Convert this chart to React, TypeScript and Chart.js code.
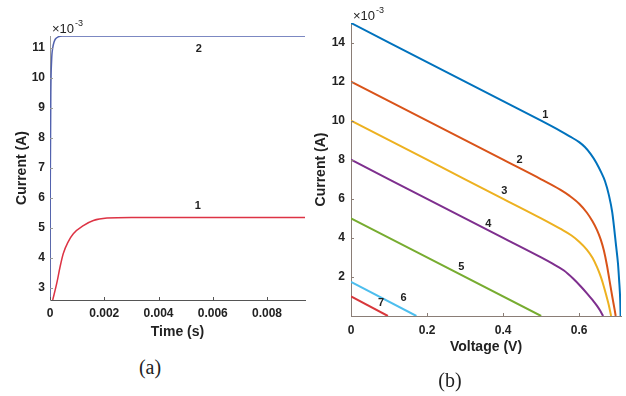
import React, { useEffect, useRef } from 'react';
import { Chart, registerables } from 'chart.js';
Chart.register(...registerables);

// ---------- Panel (a): current vs time ----------
const timeTicks = [0, 0.002, 0.004, 0.006, 0.008];
const currentTicksA = [3, 4, 5, 6, 7, 8, 9, 10, 11];
const timeRed = [0.0001, 0.00025, 0.00037, 0.00049, 0.00067, 0.00086, 0.00123, 0.0016, 0.0021, 0.003, 0.0094];
const currentRed = [2.6, 3.16, 3.7, 4.15, 4.54, 4.81, 5.08, 5.25, 5.33, 5.35, 5.35];
const timeBlue = [0, 0.00001, 0.00003, 0.00006, 0.0001, 0.00015, 0.0002, 0.0003, 0.00045, 0.0094];
const currentBlue = [2.6, 6.5, 9.5, 10.6, 11.0, 11.2, 11.3, 11.37, 11.4, 11.4];
const labelsAText = ['1', '2'];
const labelsATime = [0.00545, 0.00549];
const labelsACurrent = [5.72, 10.97];

// ---------- Panel (b): I-V curves ----------
const voltTicks = [0, 0.2, 0.4, 0.6];
const currentTicksB = [2, 4, 6, 8, 10, 12, 14];
const v1 = [0, 0.1, 0.2, 0.3, 0.4, 0.5, 0.55, 0.575, 0.6, 0.615, 0.63, 0.645, 0.658, 0.668, 0.678, 0.687, 0.697, 0.702, 0.705, 0.708, 0.709];
const i1 = [15, 14, 13, 12, 11, 10, 9.48, 9.2, 8.9, 8.65, 8.3, 7.85, 7.35, 6.9, 6.2, 5.3, 3.6, 2.7, 1.85, 0.8, 0];
const v2 = [0, 0.1, 0.2, 0.3, 0.4, 0.5, 0.55, 0.575, 0.6, 0.62, 0.635, 0.647, 0.657, 0.665, 0.673, 0.68, 0.687, 0.693, 0.696];
const i2 = [12, 11, 10, 9, 8, 7, 6.47, 6.15, 5.75, 5.3, 4.85, 4.4, 3.9, 3.35, 2.6, 1.8, 1.0, 0.35, 0];
const v3 = [0, 0.1, 0.2, 0.3, 0.4, 0.5, 0.55, 0.58, 0.6, 0.62, 0.635, 0.647, 0.657, 0.665, 0.672, 0.678, 0.684];
const i3 = [10, 9, 8, 7, 6, 5, 4.47, 4.12, 3.8, 3.4, 2.98, 2.5, 2.0, 1.5, 1.0, 0.55, 0];
const v4 = [0, 0.1, 0.2, 0.3, 0.4, 0.5, 0.53, 0.56, 0.584, 0.605, 0.621, 0.635, 0.647, 0.655, 0.663];
const i4 = [8, 7, 6, 5, 4, 3, 2.68, 2.33, 1.92, 1.5, 1.15, 0.82, 0.52, 0.28, 0];
const v5 = [0, 0.5];
const i5 = [5, 0];
const v6 = [0, 0.172];
const i6 = [1.75, 0];
const v7 = [0, 0.097];
const i7 = [1.0, 0];
const labelsBText = ['1', '2', '3', '4', '5', '6', '7'];
const labelsBVolt = [0.511, 0.443, 0.403, 0.361, 0.29, 0.138, 0.079];
const labelsBCurrent = [10.29, 7.99, 6.42, 4.7, 2.49, 0.91, 0.65];
const colorsB = ['#0072BD', '#D95319', '#EDB120', '#7E2F8E', '#77AC30', '#4DBEEE', '#D8363A'];

const FONT = '"Liberation Sans", Arial, sans-serif';
const TEXT = '#222222';

function pts(xs: number[], ys: number[]) {
  return xs.map((x, i) => ({ x, y: ys[i] }));
}

function decor(xTicks: number[], yTicks: number[], xTickColor: string, yTickColor: string,
  lt: string[], lx: number[], ly: number[]) {
  return {
    id: 'decor',
    afterDraw(chart: any) {
      const { ctx, chartArea: a } = chart;
      const x = chart.scales.x;
      const y = chart.scales.y;
      ctx.save();
      ctx.lineWidth = 1;
      ctx.strokeStyle = xTickColor;
      ctx.beginPath();
      xTicks.forEach((v) => {
        const px = Math.round(x.getPixelForValue(v)) + 0.5;
        ctx.moveTo(px, a.bottom);
        ctx.lineTo(px, a.bottom - 3);
      });
      ctx.stroke();
      ctx.strokeStyle = yTickColor;
      ctx.beginPath();
      yTicks.forEach((v) => {
        const py = Math.round(y.getPixelForValue(v)) + 0.5;
        ctx.moveTo(a.left, py);
        ctx.lineTo(a.left + 3, py);
      });
      ctx.stroke();
      ctx.fillStyle = TEXT;
      ctx.font = `bold 11px ${FONT}`;
      ctx.textAlign = 'center';
      ctx.textBaseline = 'middle';
      lt.forEach((t, i) => ctx.fillText(t, x.getPixelForValue(lx[i]), y.getPixelForValue(ly[i])));
      ctx.textAlign = 'left';
      ctx.textBaseline = 'alphabetic';
      ctx.font = `13px ${FONT}`;
      ctx.fillText('×10', a.left + 2, a.top - 3);
      const w = ctx.measureText('×10').width;
      ctx.font = `9px ${FONT}`;
      ctx.fillText('-3', a.left + 3 + w, a.top - 10);
      ctx.restore();
    },
  };
}

function axis(opts: any) {
  const { min, max, tickVals, size, horizontal, borderColor, title, titlePad, tickPad } = opts;
  return {
    type: 'linear',
    min,
    max,
    afterBuildTicks: (s: any) => {
      s.ticks = tickVals.map((v: number) => ({ value: v }));
    },
    afterFit: (s: any) => {
      if (horizontal) s.height = size;
      else s.width = size;
    },
    grid: { display: true, drawOnChartArea: false, drawTicks: false },
    border: { display: true, color: borderColor, width: 1 },
    ticks: {
      padding: tickPad,
      color: TEXT,
      font: { family: FONT, size: 12, weight: 'bold' },
      callback: (v: any) => String(v),
    },
    title: {
      display: true,
      text: title,
      color: TEXT,
      font: { family: FONT, size: 14, weight: 'bold' },
      padding: horizontal ? { top: 0, bottom: titlePad } : { top: titlePad, bottom: 0 },
    },
  };
}

function ChartCanvas({ config, left, width, height }: any) {
  const ref = useRef<HTMLCanvasElement | null>(null);
  useEffect(() => {
    if (!ref.current) return;
    const c = new Chart(ref.current, config);
    return () => c.destroy();
  }, []);
  return (
    <canvas
      ref={ref}
      width={width}
      height={height}
      style={{ position: 'absolute', left, top: 0, width, height }}
    />
  );
}

const configA: any = {
  type: 'line',
  data: {
    datasets: [
      { data: pts(timeRed, currentRed), borderColor: '#DD3344', borderWidth: 1.5, pointRadius: 0, cubicInterpolationMode: 'monotone', fill: false },
      { data: pts(timeBlue, currentBlue), borderColor: '#5262AE', borderWidth: 1.5, pointRadius: 0, cubicInterpolationMode: 'monotone', fill: false },
    ],
  },
  options: {
    animation: false,
    responsive: false,
    events: [],
    layout: { padding: { top: 36, right: 5, left: 0, bottom: 0 } },
    plugins: { legend: { display: false }, tooltip: { enabled: false } },
    scales: {
      x: axis({ min: 0, max: 0.0094, tickVals: timeTicks, size: 50, horizontal: true, borderColor: '#555555', title: 'Time (s)', titlePad: 9.6, tickPad: 6 }),
      y: axis({ min: 2.6, max: 11.4, tickVals: currentTicksA, size: 50, horizontal: false, borderColor: '#9a9a9a', title: 'Current (A)', titlePad: 13.6, tickPad: 5 }),
    },
  },
  plugins: [decor(timeTicks, currentTicksA, '#555555', '#9a9a9a', labelsAText, labelsATime, labelsACurrent)],
};

const seriesB = [pts(v1, i1), pts(v2, i2), pts(v3, i3), pts(v4, i4), pts(v5, i5), pts(v6, i6), pts(v7, i7)];

const configB: any = {
  type: 'line',
  data: {
    datasets: seriesB.map((d, k) => ({
      data: d,
      borderColor: colorsB[k],
      borderWidth: 2,
      pointRadius: 0,
      cubicInterpolationMode: 'monotone',
      fill: false,
    })),
  },
  options: {
    animation: false,
    responsive: false,
    events: [],
    layout: { padding: { top: 23, right: 5, left: 0, bottom: 0 } },
    plugins: { legend: { display: false }, tooltip: { enabled: false } },
    scales: {
      x: axis({ min: 0, max: 0.71, tickVals: voltTicks, size: 54, horizontal: true, borderColor: '#8a7d76', title: 'Voltage (V)', titlePad: 14.6, tickPad: 7 }),
      y: axis({ min: 0, max: 15, tickVals: currentTicksB, size: 51, horizontal: false, borderColor: '#8a7d76', title: 'Current (A)', titlePad: 13.1, tickPad: 6 }),
    },
  },
  plugins: [decor(voltTicks, currentTicksB, '#8a7d76', '#8a7d76', labelsBText, labelsBVolt, labelsBCurrent)],
};

const captionStyle: any = {
  position: 'absolute',
  transform: 'translate(-50%, -50%)',
  fontFamily: '"Liberation Serif", "Times New Roman", serif',
  fontSize: 20,
  lineHeight: 1,
  color: TEXT,
  whiteSpace: 'nowrap',
};

export default function App() {
  return (
    <div style={{ position: 'fixed', left: 0, top: 0, width: 626, height: 396, background: '#ffffff', overflow: 'hidden' }}>
      <ChartCanvas config={configA} left={0} width={310} height={350} />
      <ChartCanvas config={configB} left={300} width={326} height={370} />
      <div style={{ ...captionStyle, left: 150, top: 367 }}>(a)</div>
      <div style={{ ...captionStyle, left: 450, top: 380 }}>(b)</div>
    </div>
  );
}
